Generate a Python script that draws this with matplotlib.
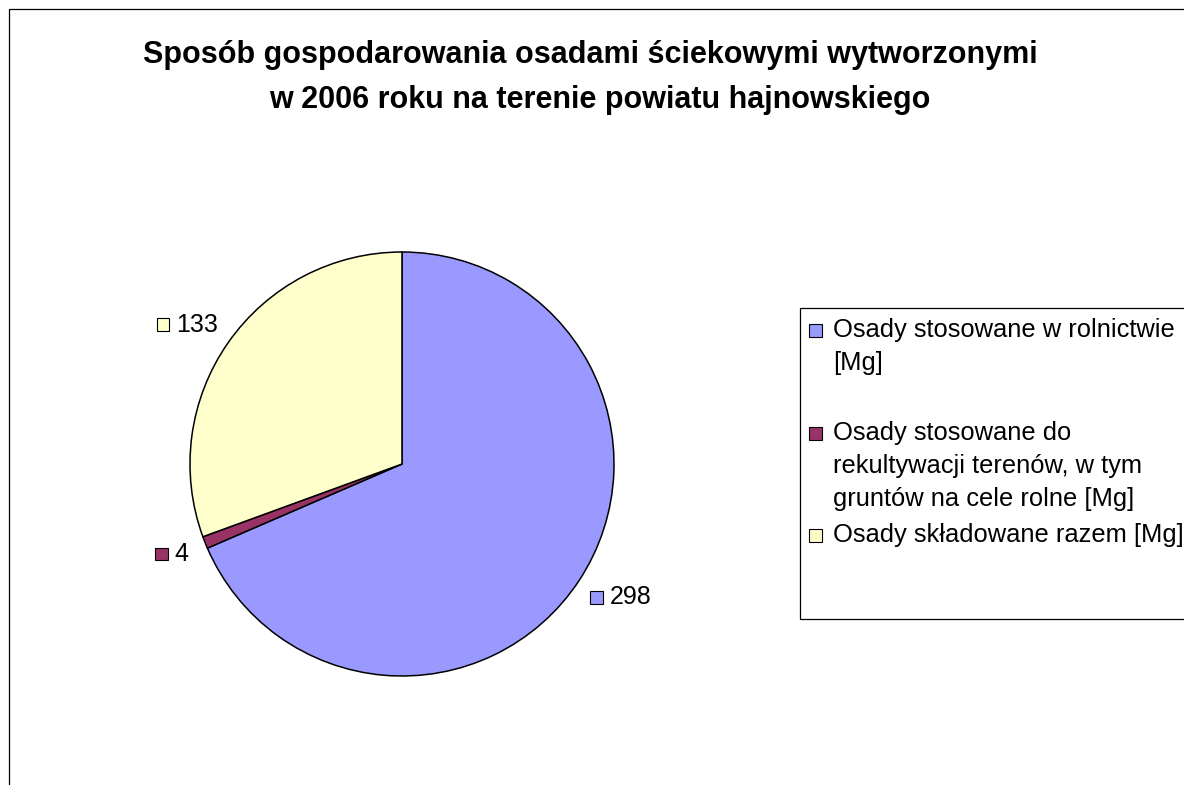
import matplotlib.pyplot as plt
import numpy as np
from matplotlib.patches import Rectangle
from matplotlib.offsetbox import AnnotationBbox, DrawingArea, HPacker, TextArea

plt.rcParams['font.family'] = ['Liberation Sans', 'DejaVu Sans']

title_lines = ["Sposób gospodarowania osadami ściekowymi wytworzonymi",
               "w 2006 roku na terenie powiatu hajnowskiego"]
categories = ["Osady stosowane w rolnictwie\n[Mg]",
              "Osady stosowane do\nrekultywacji terenów, w tym\ngruntów na cele rolne [Mg]",
              "Osady składowane razem [Mg]"]
values = [298, 4, 133]
colors = ["#9999FF", "#993366", "#FFFFCC"]

W, H = 1184, 785
fig = plt.figure(figsize=(W / 100, H / 100), dpi=100)


def fx(px):
    return px / W


def fy(py):
    return 1 - py / H


# ramka obszaru wykresu (ucięta z prawej i od dołu)
fig.patches.append(Rectangle((fx(8.5), fy(H + 20)), fx(W + 20) - fx(8.5), fy(9) - fy(H + 20),
                             transform=fig.transFigure, fill=False, edgecolor='black', linewidth=0.9))

fig.text(fx(590), fy(55), title_lines[0], ha='center', va='center', fontsize=22, fontweight='bold')
fig.text(fx(600), fy(100), title_lines[1], ha='center', va='center', fontsize=22, fontweight='bold')

# kolo
cx, cy, r = 402, 464, 212
ax = fig.add_axes([fx(cx - r), fy(cy + r), 2 * r / W, 2 * r / H])
wedges, _ = ax.pie(values, colors=colors, startangle=90, counterclock=False,
                   wedgeprops=dict(edgecolor='black', linewidth=1.1))
ax.set_xlim(-1, 1)
ax.set_ylim(-1, 1)
ax.set_aspect('equal')
ax.axis('off')

# etykiety danych: kwadracik + wartosc, wyrownane wzgledem kata wycinka
for w, v in zip(wedges, values):
    ang = np.deg2rad((w.theta1 + w.theta2) / 2)
    c, s = np.cos(ang), np.sin(ang)
    da = DrawingArea(9, 9, 0, 0)
    da.add_artist(Rectangle((0, 0), 9, 9, facecolor=w.get_facecolor(), edgecolor='black', linewidth=0.8))
    ta = TextArea(str(v), textprops=dict(fontsize=18))
    box = HPacker(children=[da, ta], align='center', pad=0, sep=5)
    ab = AnnotationBbox(box, (1.09 * c, 1.09 * s), frameon=False,
                        box_alignment=(0.5 - 0.5 * c, 0.5 - 0.5 * s), annotation_clip=False, pad=0)
    ax.add_artist(ab)

# legenda
fig.patches.append(Rectangle((fx(800), fy(619)), fx(W + 20) - fx(800), fy(308) - fy(619),
                             transform=fig.transFigure, fill=False, edgecolor='black', linewidth=0.9))
first_line_y = [330, 433, 535]
for w, label, y0 in zip(wedges, categories, first_line_y):
    fig.patches.append(Rectangle((fx(809), fy(y0 + 7)), fx(822) - fx(809), fy(y0 - 6) - fy(y0 + 7),
                                 transform=fig.transFigure, facecolor=w.get_facecolor(),
                                 edgecolor='black', linewidth=0.8))
    for i, line in enumerate(label.split("\n")):
        fig.text(fx(833), fy(y0 + 33 * i), line, ha='left', va='center', fontsize=18.4)

fig.savefig("out.png", dpi=100)
